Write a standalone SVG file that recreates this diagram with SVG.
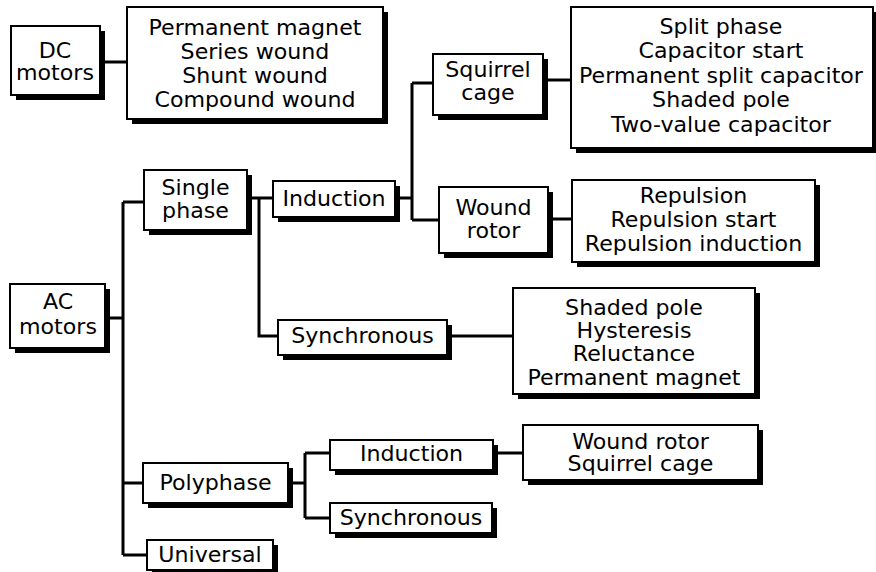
<svg xmlns="http://www.w3.org/2000/svg" width="876" height="572" viewBox="0 0 876 572">
<style>
.bx{fill:#fff;stroke:#000;stroke-width:2}
.sh{fill:#000}
.t{font-family:"DejaVu Sans","Verdana",sans-serif;font-size:20.5px;text-anchor:middle;fill:#000}
.c{fill:none;stroke:#000;stroke-width:3}
</style>
<rect width="876" height="572" fill="#fff"/>
<g id="connectors">
<path class="c" d="M100,62H127"/>
<path class="c" d="M105,318H123M123,202V555M123,202H144M123,483H143M123,555H147"/>
<path class="c" d="M247,198H273M259,198V336H278"/>
<path class="c" d="M395,198H412M412,83V220M412,83H433M412,220H439"/>
<path class="c" d="M543,80H571"/>
<path class="c" d="M548,219H572"/>
<path class="c" d="M447,336H513"/>
<path class="c" d="M288,483H305M305,453V518M305,453H330M305,518H330"/>
<path class="c" d="M493,453H523"/>
</g>
<g id="dc">
<rect class="sh" x="16" y="31" width="89" height="69"/>
<rect class="bx" x="11" y="26" width="89" height="69"/>
<g transform="translate(55,0) scale(1.08,1)"><text class="t" x="0" y="58">DC</text><text class="t" x="0" y="80">motors</text></g>
</g>
<g id="dc-list">
<rect class="sh" x="132" y="12" width="256" height="112"/>
<rect class="bx" x="127" y="7" width="256" height="112"/>
<g transform="translate(255,0) scale(1.08,1)"><text class="t" x="0" y="35">Permanent magnet</text><text class="t" x="0" y="59">Series wound</text><text class="t" x="0" y="83">Shunt wound</text><text class="t" x="0" y="107">Compound wound</text></g>
</g>
<g id="ac">
<rect class="sh" x="15" y="289" width="95" height="64"/>
<rect class="bx" x="10" y="284" width="95" height="64"/>
<g transform="translate(58,0) scale(1.08,1)"><text class="t" x="0" y="309">AC</text><text class="t" x="0" y="334">motors</text></g>
</g>
<g id="single-phase">
<rect class="sh" x="149" y="175" width="103" height="60"/>
<rect class="bx" x="144" y="170" width="103" height="60"/>
<g transform="translate(195.5,0) scale(1.08,1)"><text class="t" x="0" y="195">Single</text><text class="t" x="0" y="218">phase</text></g>
</g>
<g id="induction-1">
<rect class="sh" x="278" y="186" width="122" height="36"/>
<rect class="bx" x="273" y="181" width="122" height="36"/>
<g transform="translate(334,0) scale(1.08,1)"><text class="t" x="0" y="206">Induction</text></g>
</g>
<g id="squirrel-cage">
<rect class="sh" x="438" y="59" width="110" height="61"/>
<rect class="bx" x="433" y="54" width="110" height="61"/>
<g transform="translate(488,0) scale(1.08,1)"><text class="t" x="0" y="77">Squirrel</text><text class="t" x="0" y="100">cage</text></g>
</g>
<g id="squirrel-list">
<rect class="sh" x="576" y="12" width="302" height="141"/>
<rect class="bx" x="571" y="7" width="302" height="141"/>
<g transform="translate(721,0) scale(1.08,1)"><text class="t" x="0" y="34">Split phase</text><text class="t" x="0" y="58">Capacitor start</text><text class="t" x="0" y="83">Permanent split capacitor</text><text class="t" x="0" y="107">Shaded pole</text><text class="t" x="0" y="132">Two-value capacitor</text></g>
</g>
<g id="wound-rotor">
<rect class="sh" x="444" y="192" width="109" height="66"/>
<rect class="bx" x="439" y="187" width="109" height="66"/>
<g transform="translate(493.5,0) scale(1.08,1)"><text class="t" x="0" y="215">Wound</text><text class="t" x="0" y="238">rotor</text></g>
</g>
<g id="wound-list">
<rect class="sh" x="577" y="185" width="243" height="82"/>
<rect class="bx" x="572" y="180" width="243" height="82"/>
<g transform="translate(693.5,0) scale(1.08,1)"><text class="t" x="0" y="203">Repulsion</text><text class="t" x="0" y="227">Repulsion start</text><text class="t" x="0" y="251">Repulsion induction</text></g>
</g>
<g id="synchronous-1">
<rect class="sh" x="283" y="325" width="169" height="35"/>
<rect class="bx" x="278" y="320" width="169" height="35"/>
<g transform="translate(362.5,0) scale(1.08,1)"><text class="t" x="0" y="343">Synchronous</text></g>
</g>
<g id="synchronous-list">
<rect class="sh" x="518" y="293" width="242" height="106"/>
<rect class="bx" x="513" y="288" width="242" height="106"/>
<g transform="translate(634,0) scale(1.08,1)"><text class="t" x="0" y="315">Shaded pole</text><text class="t" x="0" y="338">Hysteresis</text><text class="t" x="0" y="361">Reluctance</text><text class="t" x="0" y="385">Permanent magnet</text></g>
</g>
<g id="polyphase">
<rect class="sh" x="148" y="468" width="145" height="40"/>
<rect class="bx" x="143" y="463" width="145" height="40"/>
<g transform="translate(215.5,0) scale(1.08,1)"><text class="t" x="0" y="490">Polyphase</text></g>
</g>
<g id="induction-2">
<rect class="sh" x="335" y="445" width="163" height="30"/>
<rect class="bx" x="330" y="440" width="163" height="30"/>
<g transform="translate(411.5,0) scale(1.08,1)"><text class="t" x="0" y="461">Induction</text></g>
</g>
<g id="poly-list">
<rect class="sh" x="528" y="430" width="235" height="55"/>
<rect class="bx" x="523" y="425" width="235" height="55"/>
<g transform="translate(640.5,0) scale(1.08,1)"><text class="t" x="0" y="449">Wound rotor</text><text class="t" x="0" y="471">Squirrel cage</text></g>
</g>
<g id="synchronous-2">
<rect class="sh" x="335" y="508" width="162" height="30"/>
<rect class="bx" x="330" y="503" width="162" height="30"/>
<g transform="translate(411,0) scale(1.08,1)"><text class="t" x="0" y="525">Synchronous</text></g>
</g>
<g id="universal">
<rect class="sh" x="152" y="545" width="126" height="30"/>
<rect class="bx" x="147" y="540" width="126" height="30"/>
<g transform="translate(210,0) scale(1.08,1)"><text class="t" x="0" y="562">Universal</text></g>
</g>
</svg>
